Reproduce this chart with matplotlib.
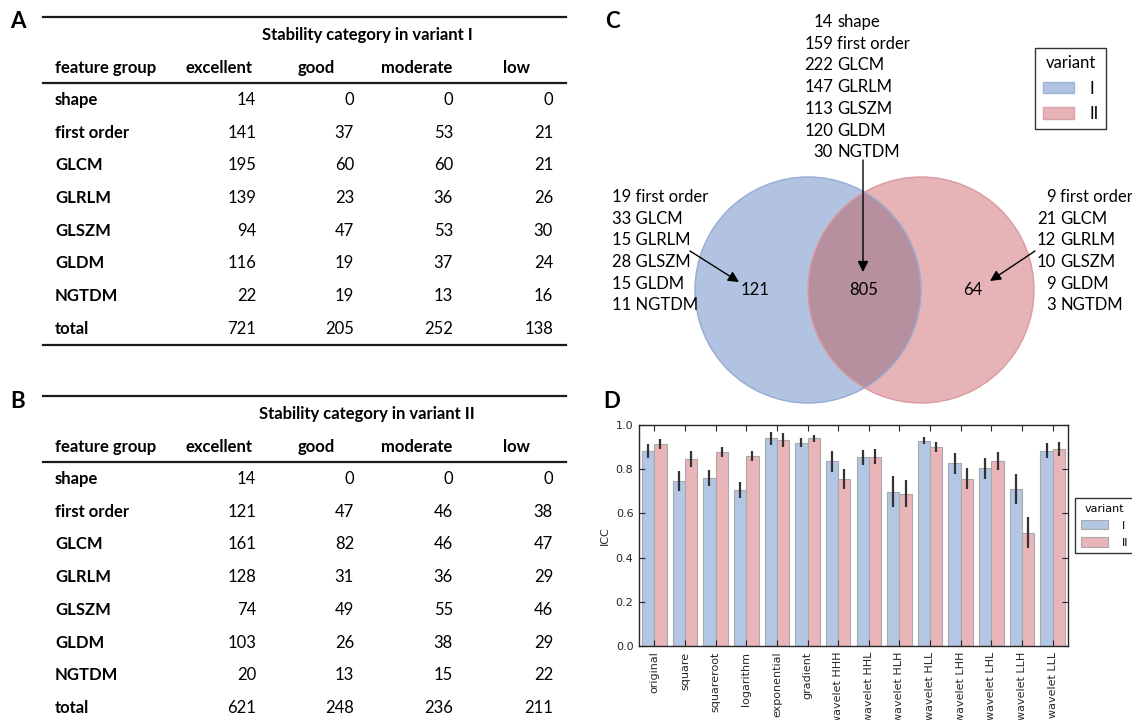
import numpy as np
import matplotlib
matplotlib.use("Agg")
import matplotlib.pyplot as plt
from matplotlib.lines import Line2D
from matplotlib.patches import Circle, Patch

# ---------------- data ----------------
feature_groups = ['shape', 'first order', 'GLCM', 'GLRLM', 'GLSZM', 'GLDM', 'NGTDM', 'total']
stability_cats = ['excellent', 'good', 'moderate', 'low']

v1_excellent = [14, 141, 195, 139, 94, 116, 22, 721]
v1_good = [0, 37, 60, 23, 47, 19, 19, 205]
v1_moderate = [0, 53, 60, 36, 53, 37, 13, 252]
v1_low = [0, 21, 21, 26, 30, 24, 16, 138]

v2_excellent = [14, 121, 161, 128, 74, 103, 20, 621]
v2_good = [0, 47, 82, 31, 49, 26, 13, 248]
v2_moderate = [0, 46, 46, 36, 55, 38, 15, 236]
v2_low = [0, 38, 47, 29, 46, 29, 22, 211]

venn_only_I = 121
venn_both = 805
venn_only_II = 64
both_counts = [14, 159, 222, 147, 113, 120, 30]
both_names = ['shape', 'first order', 'GLCM', 'GLRLM', 'GLSZM', 'GLDM', 'NGTDM']
onlyI_counts = [19, 33, 15, 28, 15, 11]
onlyI_names = ['first order', 'GLCM', 'GLRLM', 'GLSZM', 'GLDM', 'NGTDM']
onlyII_counts = [9, 21, 12, 10, 9, 3]
onlyII_names = ['first order', 'GLCM', 'GLRLM', 'GLSZM', 'GLDM', 'NGTDM']

filters = ['original', 'square', 'squareroot', 'logarithm', 'exponential', 'gradient',
           'wavelet HHH', 'wavelet HHL', 'wavelet HLH', 'wavelet HLL', 'wavelet LHH',
           'wavelet LHL', 'wavelet LLH', 'wavelet LLL']
icc_I = [0.882, 0.747, 0.760, 0.706, 0.940, 0.920, 0.835, 0.854, 0.698, 0.929, 0.826, 0.804, 0.710, 0.883]
icc_II = [0.913, 0.846, 0.878, 0.859, 0.932, 0.940, 0.757, 0.857, 0.690, 0.902, 0.757, 0.838, 0.512, 0.892]
err_I = [0.032, 0.044, 0.035, 0.038, 0.029, 0.020, 0.046, 0.033, 0.070, 0.017, 0.049, 0.048, 0.069, 0.034]
err_II = [0.023, 0.035, 0.024, 0.024, 0.030, 0.015, 0.046, 0.034, 0.059, 0.022, 0.047, 0.041, 0.070, 0.033]
variants = ['I', 'II']

# ---------------- figure ----------------
W, H = 1132, 720
fig = plt.figure(figsize=(W / 100, H / 100), dpi=100)
TF = 'Lato'
FS = 12


def fx(x):
    return x / W


def fy(y):
    return 1 - y / H


def hline(y, x0=43, x1=566, lw=1.6):
    fig.add_artist(Line2D([fx(x0), fx(x1)], [fy(y), fy(y)], transform=fig.transFigure,
                          color='#1a1a1a', lw=lw))


def draw_table(top, title, cols):
    hline(top)
    fig.text(fx(367), fy(top + 18), title, ha='center', va='center', family=TF,
             fontsize=FS, fontweight='bold')
    head_y = top + 51
    fig.text(fx(55), fy(head_y), 'feature group', ha='left', va='center', family=TF,
             fontsize=FS, fontweight='bold')
    head_x = [185, 298, 381, 503]
    num_x = [256, 354, 453, 553]
    for hx, c in zip(head_x, stability_cats):
        fig.text(fx(hx), fy(head_y), c, ha='left', va='center', family=TF,
                 fontsize=FS, fontweight='bold')
    hline(top + 66)
    row0 = top + 83
    step = 32.7
    for i, g in enumerate(feature_groups):
        y = row0 + i * step
        fig.text(fx(55), fy(y), g, ha='left', va='center', family=TF,
                 fontsize=FS, fontweight='bold')
        for nx, col in zip(num_x, cols):
            fig.text(fx(nx), fy(y), str(col[i]), ha='right', va='center', family=TF,
                     fontsize=FS)
    return row0 + (len(feature_groups) - 1) * step


last = draw_table(17, 'Stability category in variant I', [v1_excellent, v1_good, v1_moderate, v1_low])
hline(last + 16)
draw_table(396, 'Stability category in variant II', [v2_excellent, v2_good, v2_moderate, v2_low])

# panel letters
for lab, (x, y) in zip('ABCD', [(18, 22), (18, 401), (612, 22), (612, 401)]):
    fig.text(fx(x), fy(y), lab, ha='center', va='center', family=TF, fontsize=16,
             fontweight='bold')

# ---------------- Venn (C) ----------------
axc = fig.add_axes([fx(600), fy(410), fx(532), 410 / H])
axc.set_xlim(600, 1132)
axc.set_ylim(410, 0)
axc.axis('off')
c_blue = '#b1c3e0'
c_red = '#e6b3b7'
c_mid = '#b7909f'
cxI, cxII, cy, r = 808, 921, 290, 113
blue = Circle((cxI, cy), r, facecolor=c_blue, edgecolor='none')
red = Circle((cxII, cy), r, facecolor=c_red, edgecolor='none')
axc.add_patch(blue)
axc.add_patch(red)
mid = Circle((cxII, cy), r, facecolor=c_mid, edgecolor='none')
axc.add_patch(mid)
mid.set_clip_path(Circle((cxI, cy), r, transform=axc.transData))
axc.add_patch(Circle((cxI, cy), r, facecolor='none', edgecolor='#97acd3', lw=1.0))
axc.add_patch(Circle((cxII, cy), r, facecolor='none', edgecolor='#d99aa1', lw=1.0))

axc.text(755, 290, str(venn_only_I), ha='center', va='center', family=TF, fontsize=FS)
axc.text(864, 290, str(venn_both), ha='center', va='center', family=TF, fontsize=FS)
axc.text(973, 290, str(venn_only_II), ha='center', va='center', family=TF, fontsize=FS)

ls = 21.7
for i, (n, name) in enumerate(zip(both_counts, both_names)):
    y = 22 + i * ls
    axc.text(833, y, str(n), ha='right', va='center', family=TF, fontsize=FS)
    axc.text(837, y, name, ha='left', va='center', family=TF, fontsize=FS)
for i, (n, name) in enumerate(zip(onlyI_counts, onlyI_names)):
    y = 197 + i * ls
    axc.text(612, y, f'{n} {name}', ha='left', va='center', family=TF, fontsize=FS)
for i, (n, name) in enumerate(zip(onlyII_counts, onlyII_names)):
    y = 197 + i * ls
    axc.text(1056, y, str(n), ha='right', va='center', family=TF, fontsize=FS)
    axc.text(1060, y, name, ha='left', va='center', family=TF, fontsize=FS)

ap = dict(arrowstyle='-|>', color='black', lw=1.0, mutation_scale=16, shrinkA=0, shrinkB=0)
axc.annotate('', xy=(739, 282), xytext=(690, 251), arrowprops=ap)
axc.annotate('', xy=(990, 281), xytext=(1035, 251), arrowprops=ap)
axc.annotate('', xy=(863, 272), xytext=(863, 160), arrowprops=ap)

legc = axc.legend(handles=[Patch(facecolor=c_blue, edgecolor='#9fb2d6', label=variants[0]),
                           Patch(facecolor=c_red, edgecolor='#dba0a6', label=variants[1])],
                  title='variant', loc='upper left', bbox_to_anchor=(1035, 48),
                  bbox_transform=axc.transData, fancybox=False, framealpha=1,
                  edgecolor='#333333', prop={'family': TF, 'size': FS},
                  title_fontproperties={'family': TF, 'size': FS},
                  handlelength=1.9, handleheight=0.66, handletextpad=0.9,
                  borderpad=0.45, labelspacing=0.55, borderaxespad=0)
legc.get_frame().set_linewidth(1.0)

# ---------------- Bar chart (D) ----------------
axd = fig.add_axes([fx(639), fy(646), 429 / W, 221 / H])
x = np.arange(len(filters))
bw = 0.4
b_col = '#b3c6e3'
r_col = '#e9b5b9'
ekw = dict(ecolor='#333333', elinewidth=1.6, capsize=0)
axd.bar(x - bw / 2, icc_I, bw, yerr=err_I, color=b_col, edgecolor='#a9a9a9', lw=0.8,
        error_kw=ekw, label=variants[0])
axd.bar(x + bw / 2, icc_II, bw, yerr=err_II, color=r_col, edgecolor='#a9a9a9', lw=0.8,
        error_kw=ekw, label=variants[1])
axd.set_xlim(-0.5, len(filters) - 0.5)
axd.set_ylim(0, 1.0)
axd.set_yticks(np.arange(0, 1.01, 0.2))
axd.set_yticklabels([f'{v:.1f}' for v in np.arange(0, 1.01, 0.2)])
axd.set_xticks(x)
axd.set_xticklabels(filters, rotation=90)
axd.tick_params(direction='in', top=True, right=True, length=4, width=0.8,
                labelsize=8, colors='#262626', pad=4)
axd.set_ylabel('ICC', fontsize=8, color='#262626')
for s in axd.spines.values():
    s.set_color('#262626')
    s.set_linewidth(1.0)
legd = axd.legend(title='variant', loc='upper left', bbox_to_anchor=(fx(1075), fy(498)),
                  bbox_transform=fig.transFigure, fancybox=False, framealpha=1,
                  edgecolor='#333333', fontsize=8, title_fontsize=8,
                  handlelength=2.5, handleheight=0.9, handletextpad=1.2,
                  borderpad=0.5, labelspacing=0.6, borderaxespad=0)
legd.get_frame().set_linewidth(1.0)

fig.savefig('out.png', dpi=100)
